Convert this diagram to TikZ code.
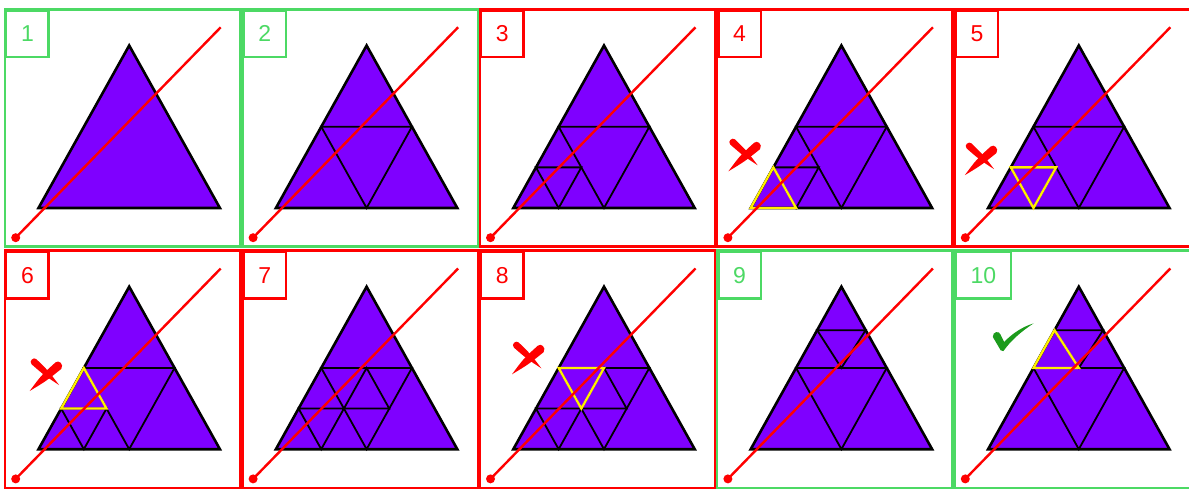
\documentclass[tikz,border=0pt]{standalone}
\usepackage{fontspec}
\newfontfamily\lblfont{Liberation Sans}
\usetikzlibrary{calc}
\definecolor{okgreen}{RGB}{76,217,100}
\definecolor{badred}{RGB}{255,0,0}
\definecolor{tripurple}{RGB}{127,0,255}
\definecolor{hiyellow}{RGB}{255,238,0}
\definecolor{tickgreen}{RGB}{28,155,28}
\tikzset{
  panelframe/.style={draw=#1, line width=2.4pt},
  lbl/.style={draw=#1, text=#1, line width=2.4pt, anchor=north west, minimum height=46.5pt,
    inner xsep=14.8pt, inner ysep=0pt, font=\lblfont\fontsize{23}{27}\selectfont},
  bigtri/.style={fill=tripurple, draw=black, line width=2.6pt, line join=miter},
  subline/.style={draw=black, line width=1.8pt},
  hilite/.style={draw=hiyellow, line width=2.3pt, line join=miter},
  ray/.style={draw=badred, line width=2.4pt},
  raydot/.style={fill=badred, circle, inner sep=0pt, minimum size=9pt},
  crossmk/.pic={
    \fill[badred] (10.5,-12.6) .. controls (13.5,-15.5) and (19.3,-11) .. (16.3,-6.1)
      .. controls (1.2,6) .. (-15.3,16) .. controls (-3.8,0.4) .. (10.5,-12.6) -- cycle;
    \fill[badred] (-8.7,-15.9) .. controls (-11.5,-18.4) and (-16.5,-14) .. (-13.4,-10.7)
      .. controls (-0.4,0.6) .. (14,10) .. controls (3.6,-3.9) .. (-8.7,-15.9) -- cycle;
  },
  tickmk/.pic={
    \fill[tickgreen] (-19.8,-0.5) .. controls (-20,-6) and (-13.3,-7) .. (-12,-2.7)
      -- (-8.5,4.6) .. controls (0,-4.2) and (10,-10.7) .. (21,-14)
      .. controls (8,-5.6) and (-2,3.5) .. (-9.3,13.8) .. controls (-11,14.2) .. (-12,12.8) -- cycle;
  }
}
\newcommand\PanelBase[3]{%
  \draw[panelframe=#1] (0,0) rectangle (235.3,237);
  \node[lbl=#1] (lbl#3) at (0,0) {#2};
  \coordinate (A) at (124.2,36);
  \coordinate (B) at (33.5,198.5);
  \coordinate (C) at (214.9,198.5);
  \coordinate (ab) at ($(A)!0.5!(B)$);
  \coordinate (ac) at ($(A)!0.5!(C)$);
  \coordinate (bc) at ($(B)!0.5!(C)$);
  \coordinate (b1) at ($(B)!0.5!(ab)$);
  \coordinate (b2) at ($(ab)!0.5!(bc)$);
  \coordinate (b3) at ($(B)!0.5!(bc)$);
  \coordinate (m1) at ($(ab)!0.5!(ac)$);
  \coordinate (m3) at ($(ac)!0.5!(bc)$);
  \coordinate (P) at ($(A)!0.535!(ab)$);
  \coordinate (Q) at ($(A)!0.535!(ac)$);
  \path[bigtri] (A) -- (B) -- (C) -- cycle;
}
\newcommand\LevelOne{\draw[subline] (ab) -- (ac) -- (bc) -- cycle;}
\newcommand\BotLeft{\draw[subline] (b1) -- (b2) -- (b3) -- cycle;}
\newcommand\MidSub{\draw[subline] (m1) -- (b2) -- (m3) -- cycle;}
\newcommand\TopSub{\draw[subline] (P) -- (Q) -- (m1) -- cycle;}
\newcommand\PanelRay[1]{%
  \coordinate (rs#1) at (10.7,228.2);
  \coordinate (re#1) at (215.7,17.8);
  \draw[ray] (rs#1) -- (re#1);
  \node[raydot] (dot#1) at (rs#1) {};
}
\begin{document}
\begin{tikzpicture}[x=1pt,y=-1pt]
\useasboundingbox (0,0) rectangle (1189,489);
\fill[white] (0,0) rectangle (1189,489);
% row 1
\begin{scope}[shift={(5,9.5)}]
  \PanelBase{okgreen}{1}{p1}
  \PanelRay{p1}
\end{scope}
\begin{scope}[shift={(242.4,9.5)}]
  \PanelBase{okgreen}{2}{p2}
  \LevelOne
  \PanelRay{p2}
\end{scope}
\begin{scope}[shift={(479.8,9.5)}]
  \PanelBase{badred}{3}{p3}
  \LevelOne \BotLeft
  \PanelRay{p3}
\end{scope}
\begin{scope}[shift={(717.2,9.5)}]
  \PanelBase{badred}{4}{p4}
  \LevelOne \BotLeft
  \draw[hilite] (B) -- (b3) -- (b1) -- cycle;
  \PanelRay{p4}
  \pic at (26.5,145.8) {crossmk};
\end{scope}
\begin{scope}[shift={(954.6,9.5)}]
  \PanelBase{badred}{5}{p5}
  \LevelOne \BotLeft
  \draw[hilite] (b1) -- (b2) -- (b3) -- cycle;
  \PanelRay{p5}
  \pic at (25.5,149.7) {crossmk};
\end{scope}
% row 2
\begin{scope}[shift={(5,250.7)}]
  \PanelBase{badred}{6}{p6}
  \LevelOne \BotLeft
  \draw[hilite] (ab) -- (b1) -- (b2) -- cycle;
  \PanelRay{p6}
  \pic at (40,124.3) {crossmk};
\end{scope}
\begin{scope}[shift={(242.4,250.7)}]
  \PanelBase{badred}{7}{p7}
  \LevelOne \BotLeft \MidSub
  \PanelRay{p7}
\end{scope}
\begin{scope}[shift={(479.8,250.7)}]
  \PanelBase{badred}{8}{p8}
  \LevelOne \BotLeft \MidSub
  \draw[hilite] (ab) -- (m1) -- (b2) -- cycle;
  \PanelRay{p8}
  \pic at (47.5,107.6) {crossmk};
\end{scope}
\begin{scope}[shift={(717.2,250.7)}]
  \PanelBase{okgreen}{9}{p9}
  \LevelOne \TopSub
  \PanelRay{p9}
\end{scope}
\begin{scope}[shift={(954.6,250.7)}]
  \PanelBase{okgreen}{10}{p10}
  \LevelOne \TopSub
  \draw[hilite] (P) -- (ab) -- (m1) -- cycle;
  \PanelRay{p10}
  \pic at (58,86.7) {tickmk};
\end{scope}
\end{tikzpicture}
\end{document}
